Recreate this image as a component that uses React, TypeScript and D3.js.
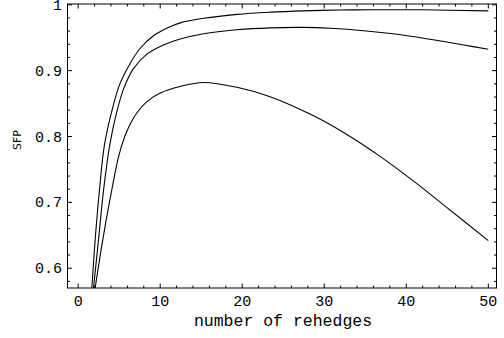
import React from "react";
import * as d3 from "d3";

// SFP vs number of rehedges, three curves
const curveTop: [number, number][] = [
  [1.67, 0.57], [2.07, 0.643], [2.6, 0.719], [3.2, 0.787], [4.3, 0.848],
  [5.12, 0.881], [6.34, 0.911], [7.56, 0.934], [9.18, 0.953], [10.8, 0.9645],
  [12.44, 0.9725], [15.3, 0.9795], [19.35, 0.9855], [23.4, 0.9888], [27.5, 0.9908],
  [31.95, 0.992], [36, 0.9925], [42, 0.9924], [50, 0.9908],
];
const curveMid: [number, number][] = [
  [1.87, 0.57], [2.48, 0.643], [3.1, 0.719], [3.85, 0.787], [4.72, 0.838],
  [5.53, 0.872], [6.74, 0.903], [8.38, 0.925], [10.4, 0.939], [12.44, 0.948],
  [15.3, 0.956], [19.35, 0.962], [23.4, 0.965], [27.5, 0.9657], [30.7, 0.9643],
  [34.8, 0.9607], [38.9, 0.9552], [42.9, 0.9476], [47, 0.939], [50, 0.9324],
];
const curveLow: [number, number][] = [
  [2.07, 0.57], [3.0, 0.643], [4.1, 0.719], [5.0, 0.773], [5.94, 0.808],
  [7.16, 0.836], [8.38, 0.853], [10, 0.866], [12.44, 0.876], [15.3, 0.882],
  [19.35, 0.8747], [23.4, 0.8605], [28.7, 0.8314], [32.8, 0.8027],
  [36.8, 0.7699], [40.9, 0.7322], [44.96, 0.692], [50, 0.642],
];

const xMajor = [0, 10, 20, 30, 40, 50];
const yMajor = [0.6, 0.7, 0.8, 0.9, 1];
const yLabels = ["0.6", "0.7", "0.8", "0.9", "1"];

export default function App() {
  const width = 504;
  const height = 338;
  const left = 67.5, right = 496.5, top = 4, bottom = 288;

  const x = d3.scaleLinear().domain([-1.3, 51.0]).range([left, right]);
  const y = d3.scaleLinear().domain([0.57, 1.0012]).range([bottom, top]);

  const xMinor = d3.range(0, 51, 2).filter((v) => xMajor.indexOf(v) < 0);
  const yMinor = d3.range(0.58, 1.0, 0.02).filter(
    (v) => !yMajor.some((m) => Math.abs(m - v) < 1e-6)
  );

  const line = d3
    .line<[number, number]>()
    .x((d) => x(d[0]))
    .y((d) => y(d[1]))
    .curve(d3.curveCatmullRom.alpha(0.5));

  const mono = "'Liberation Mono', 'DejaVu Sans Mono', monospace";
  const majLen = 4.5, minLen = 2.5;

  return (
    <svg
      width={width}
      height={height}
      style={{ position: "absolute", left: 0, top: 0, background: "#fff" }}
    >
      <defs>
        <clipPath id="plotArea">
          <rect x={left} y={top} width={right - left} height={bottom - top} />
        </clipPath>
      </defs>

      <g clipPath="url(#plotArea)" fill="none" stroke="#000" strokeWidth={1.1}>
        {[curveTop, curveMid, curveLow].map((c, i) => (
          <path key={i} d={line(c) || ""} />
        ))}
      </g>

      {/* frame */}
      <rect
        x={left}
        y={top}
        width={right - left}
        height={bottom - top}
        fill="none"
        stroke="#000"
        strokeWidth={1}
      />

      {/* ticks on all four sides */}
      <g stroke="#000" strokeWidth={1}>
        {xMajor.map((v) => (
          <g key={"xm" + v}>
            <line x1={x(v)} x2={x(v)} y1={bottom} y2={bottom - majLen} />
            <line x1={x(v)} x2={x(v)} y1={top} y2={top + majLen} />
          </g>
        ))}
        {xMinor.map((v) => (
          <g key={"xn" + v}>
            <line x1={x(v)} x2={x(v)} y1={bottom} y2={bottom - minLen} />
            <line x1={x(v)} x2={x(v)} y1={top} y2={top + minLen} />
          </g>
        ))}
        {yMajor.map((v) => (
          <g key={"ym" + v}>
            <line x1={left} x2={left + majLen} y1={y(v)} y2={y(v)} />
            <line x1={right} x2={right - majLen} y1={y(v)} y2={y(v)} />
          </g>
        ))}
        {yMinor.map((v) => (
          <g key={"yn" + v}>
            <line x1={left} x2={left + minLen} y1={y(v)} y2={y(v)} />
            <line x1={right} x2={right - minLen} y1={y(v)} y2={y(v)} />
          </g>
        ))}
      </g>

      {/* tick labels */}
      <g fontFamily={mono} fontSize={15} fill="#000">
        {xMajor.map((v) => (
          <text key={"xl" + v} x={x(v)} y={306} textAnchor="middle">
            {v}
          </text>
        ))}
        {yMajor.map((v, i) => (
          <text key={"yl" + v} x={62} y={y(v) + 5} textAnchor="end">
            {yLabels[i]}
          </text>
        ))}
      </g>

      <text
        x={(left + right) / 2 + 1}
        y={326}
        textAnchor="middle"
        fontFamily={mono}
        fontSize={16.5}
        fill="#000"
      >
        number of rehedges
      </text>
      <text
        transform={`translate(21, 140) rotate(-90)`}
        textAnchor="middle"
        fontFamily="'DejaVu Sans', sans-serif"
        fontSize={11}
        fill="#000"
      >
        SFP
      </text>
    </svg>
  );
}
